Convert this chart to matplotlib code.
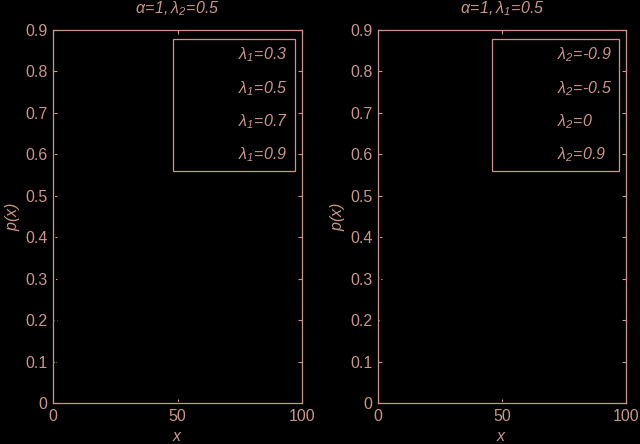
import numpy as np
import matplotlib.pyplot as plt
from matplotlib.ticker import FormatStrFormatter

FG = "#cc958b"
BG = "black"

# distributions p(x) (drawn in black in the original, so they vanish on the black background)
x = [0, 1, 2, 3, 4, 5, 10, 20, 30, 50, 70, 100]
left_labels = [r"$\lambda_1\!=\!0.3$", r"$\lambda_1\!=\!0.5$", r"$\lambda_1\!=\!0.7$", r"$\lambda_1\!=\!0.9$"]
left_p = [
    [0.30, 0.21, 0.15, 0.10, 0.07, 0.05, 0.01, 0.0, 0.0, 0.0, 0.0, 0.0],
    [0.50, 0.25, 0.12, 0.06, 0.03, 0.02, 0.0, 0.0, 0.0, 0.0, 0.0, 0.0],
    [0.70, 0.21, 0.06, 0.02, 0.01, 0.0, 0.0, 0.0, 0.0, 0.0, 0.0, 0.0],
    [0.90, 0.09, 0.01, 0.0, 0.0, 0.0, 0.0, 0.0, 0.0, 0.0, 0.0, 0.0],
]
right_labels = [r"$\lambda_2\!=\!\text{-}0.9$", r"$\lambda_2\!=\!\text{-}0.5$", r"$\lambda_2\!=\!0$", r"$\lambda_2\!=\!0.9$"]
right_p = [
    [0.50, 0.30, 0.12, 0.05, 0.02, 0.01, 0.0, 0.0, 0.0, 0.0, 0.0, 0.0],
    [0.50, 0.28, 0.12, 0.06, 0.03, 0.01, 0.0, 0.0, 0.0, 0.0, 0.0, 0.0],
    [0.50, 0.25, 0.12, 0.06, 0.03, 0.02, 0.0, 0.0, 0.0, 0.0, 0.0, 0.0],
    [0.50, 0.18, 0.10, 0.07, 0.05, 0.04, 0.02, 0.01, 0.0, 0.0, 0.0, 0.0],
]
titles = [r"$\alpha\!=\!1,\lambda_2\!=\!0.5$", r"$\alpha\!=\!1,\lambda_1\!=\!0.5$"]

plt.rcParams.update({
    "font.family": "Liberation Sans",
    "mathtext.fontset": "custom",
    "mathtext.rm": "Liberation Sans:italic",
    "mathtext.it": "Liberation Sans:italic",
    "mathtext.sf": "Liberation Sans:italic",
    "font.size": 11.5,
})

fig = plt.figure(figsize=(6.4, 4.44), dpi=100, facecolor=BG)
boxes = [(53 / 640, 41 / 444, 249 / 640, 373 / 444),
         (378 / 640, 41 / 444, 248 / 640, 373 / 444)]

for box, title, labels, series in zip(boxes, titles,
                                      [left_labels, right_labels], [left_p, right_p]):
    ax = fig.add_axes(box, facecolor=BG)
    for p, lab in zip(series, labels):
        ax.plot(x, p, color="black", lw=1, label=lab)
    ax.set_xlim(0, 100)
    ax.set_ylim(0, 0.9)
    ax.set_xticks([0, 50, 100])
    ax.set_yticks(np.arange(0, 0.91, 0.1))
    ax.yaxis.set_major_formatter(FormatStrFormatter("%g"))
    ax.tick_params(direction="in", length=3, width=0.8, colors=FG,
                   top=True, right=True, labelsize=11.5, pad=4)
    for s in ax.spines.values():
        s.set_color(FG)
        s.set_linewidth(0.9)
    ax.set_title(title, color=FG, fontsize=11.5, pad=12)
    ax.set_xlabel(r"$x$", color=FG, fontsize=11.5, labelpad=4)
    ax.set_ylabel(r"$p(x)$", color=FG, fontsize=11.5, labelpad=2)
    leg = ax.legend(loc="upper right", bbox_to_anchor=(0.972, 0.977),
                    borderaxespad=0, frameon=True, fancybox=False,
                    facecolor=BG, edgecolor=FG, labelcolor=FG,
                    handlelength=3.1, handletextpad=0.5, borderpad=0.45,
                    labelspacing=0.9, fontsize=11.5)
    leg.get_frame().set_linewidth(0.9)
    leg.get_frame().set_alpha(None)

fig.savefig("out.png", dpi=100, facecolor=BG)
